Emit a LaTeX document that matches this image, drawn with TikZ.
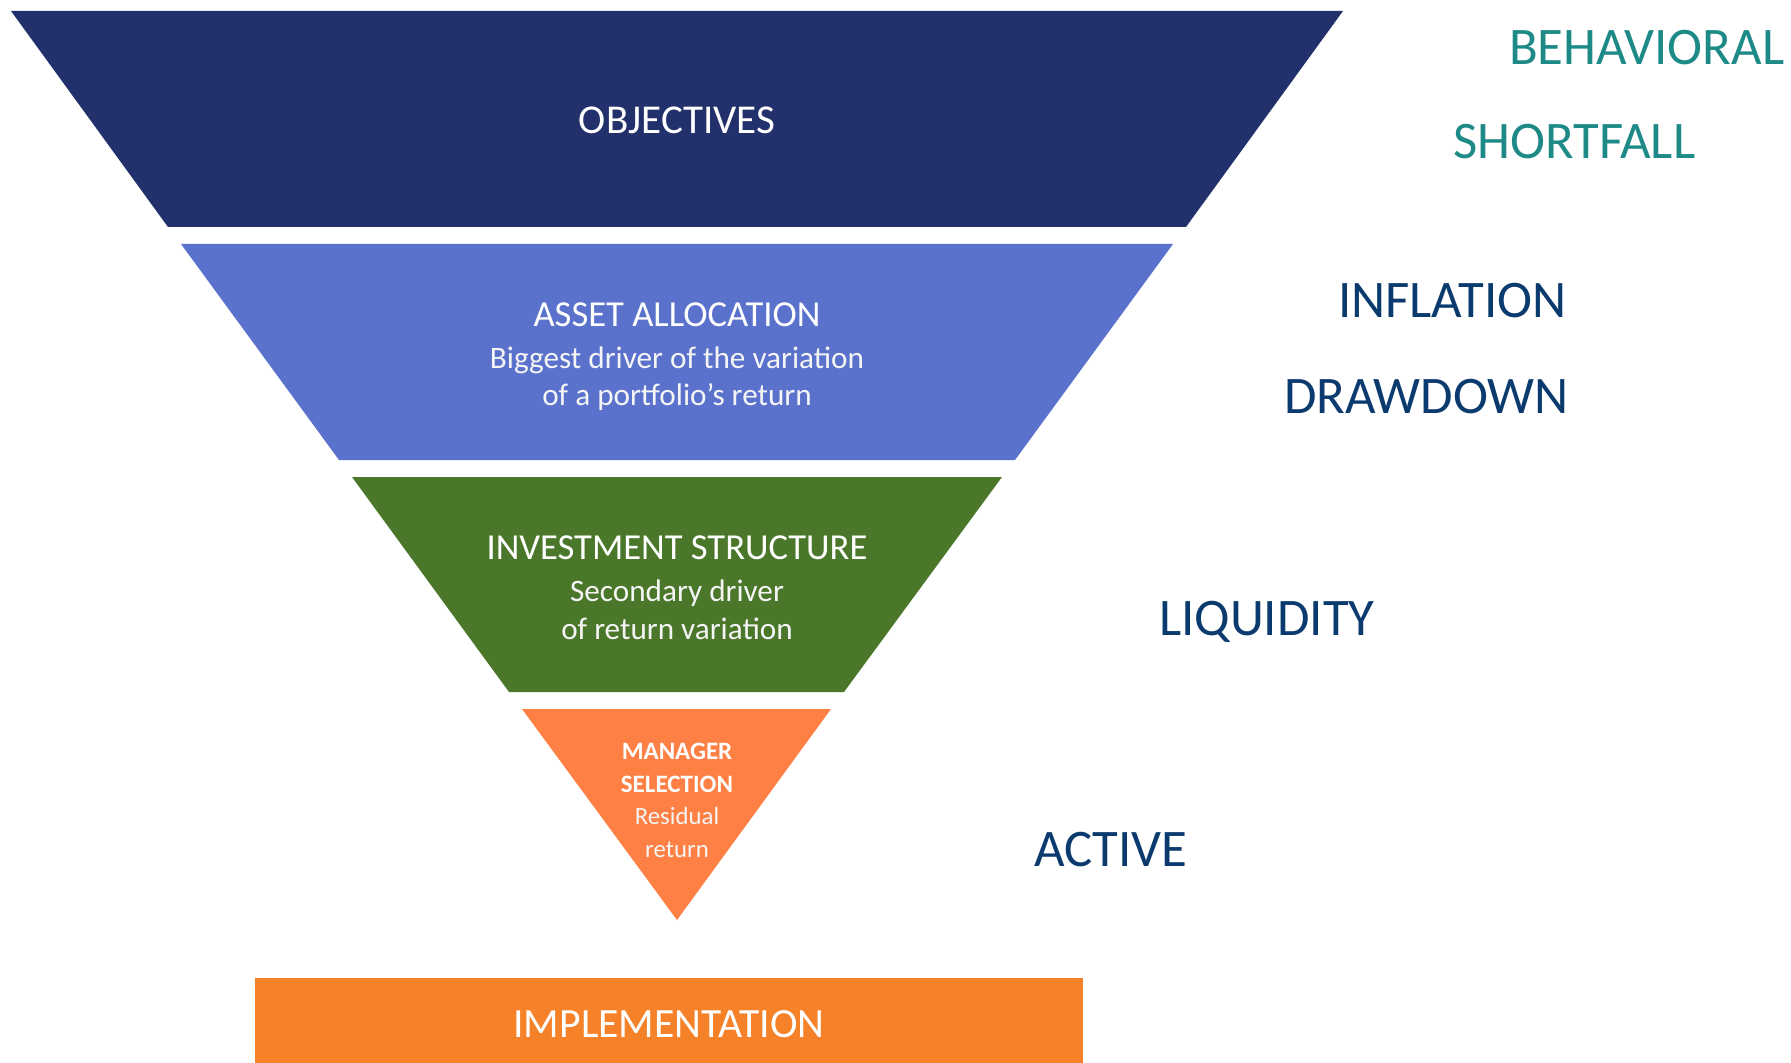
\documentclass[tikz,border=0pt]{standalone}
\usepackage{fontspec}
\setmainfont{Carlito}
\definecolor{navy}{HTML}{22316C}
\definecolor{assetblue}{HTML}{5A72CC}
\definecolor{investgreen}{HTML}{4A772A}
\definecolor{triorange}{HTML}{FF8044}
\definecolor{implorange}{HTML}{F58229}
\definecolor{tealtext}{HTML}{1E8A87}
\definecolor{bluetext}{HTML}{0B3B6E}
\tikzset{
  txt/.style={inner sep=0pt, outer sep=0pt, anchor=base},
  maintitle/.style={txt, text=white, font=\fontsize{20.5}{24}\selectfont},
  layertitle/.style={txt, text=white, font=\fontsize{18.3}{22}\selectfont},
  layersub/.style={txt, text=white!96!black, font=\fontsize{15.6}{18}\selectfont},
  smalltitle/.style={txt, text=white, font=\bfseries\fontsize{12.5}{14}\selectfont},
  smallsub/.style={txt, text=white!96!black, font=\fontsize{12.4}{14}\selectfont},
  risklabel/.style={txt, anchor=base west, font=\fontsize{26.4}{30}\selectfont},
}
\begin{document}
\begin{tikzpicture}[x=0.5pt,y=-0.5pt]
\useasboundingbox (0,0) rectangle (1791,1063);
% funnel layers
\fill[navy] (11,11) -- (1343,11) -- (1186,227) -- (168,227) -- cycle;
\fill[assetblue] (181,244) -- (1173,244) -- (1015,460) -- (339,460) -- cycle;
\fill[investgreen] (352,477) -- (1002,477) -- (844,692) -- (509,692) -- cycle;
\fill[triorange] (522,709) -- (831,709) -- (677,920) -- cycle;
\fill[implorange] (255,978) rectangle (1083,1063);
% texts in the funnel
\node[maintitle] (obj) at (677,134) {OBJECTIVES};
\node[layertitle] (aa) at (677,327) {ASSET ALLOCATION};
\node[layersub] (aa1) at (677,369) {Biggest driver of the variation};
\node[layersub] (aa2) at (677,406) {of a portfolio’s return};
\node[layertitle] (is) at (677,559) {INVESTMENT STRUCTURE};
\node[layersub] (is1) at (677,601) {Secondary driver};
\node[layersub] (is2) at (677,639) {of return variation};
\node[smalltitle] (ms1) at (677,759) {MANAGER};
\node[smalltitle] (ms2) at (677,792) {SELECTION};
\node[smallsub] (ms3) at (677,824) {Residual};
\node[smallsub] (ms4) at (677,857) {return};
\node[maintitle, font=\fontsize{20.8}{24}\selectfont] (impl) at (669,1037) {IMPLEMENTATION};
% risk labels
\node[risklabel, text=tealtext] (beh) at (1509,65) {BEHAVIORAL};
\node[risklabel, text=tealtext] (sf) at (1453,158.5) {SHORTFALL};
\node[risklabel, text=bluetext] (inf) at (1338,318) {INFLATION};
\node[risklabel, text=bluetext] (dd) at (1284,414) {DRAWDOWN};
\node[risklabel, text=bluetext] (liq) at (1159,635) {LIQUIDITY};
\node[risklabel, text=bluetext] (act) at (1034,866) {ACTIVE};
\end{tikzpicture}
\end{document}
